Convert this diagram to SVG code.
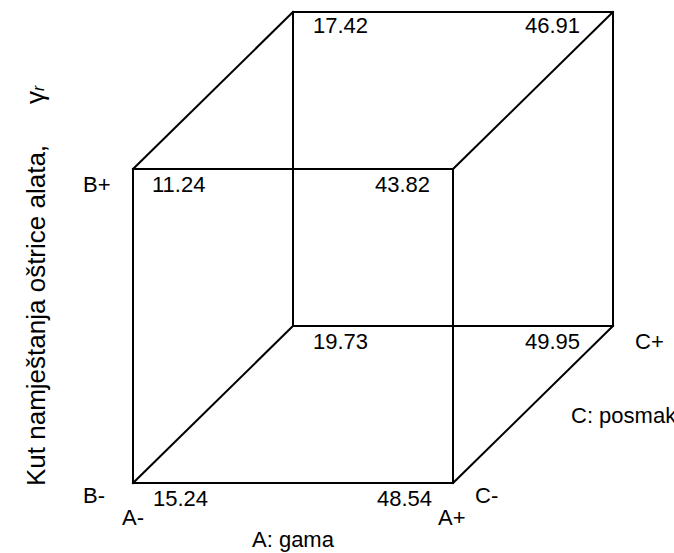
<svg xmlns="http://www.w3.org/2000/svg" width="674" height="553" viewBox="0 0 674 553">
<style>
.l{stroke:#000;stroke-width:2;fill:none;stroke-linecap:square}
text{font-family:"Liberation Sans",Arial,sans-serif;font-size:22px;fill:#000}
</style>
<rect width="674" height="553" fill="#fff"/>
<g id="connectors">
<rect class="l" x="293" y="12" width="320" height="314"/>
<rect class="l" x="133" y="169" width="320" height="314"/>
<line class="l" x1="133" y1="169" x2="293" y2="12"/>
<line class="l" x1="453" y1="169" x2="613" y2="12"/>
<line class="l" x1="133" y1="483" x2="293" y2="326"/>
<line class="l" x1="453" y1="483" x2="613" y2="326"/>
</g>
<g id="values">
<text x="313" y="33">17.42</text>
<text x="525" y="33">46.91</text>
<text x="152" y="192">11.24</text>
<text x="375" y="192">43.82</text>
<text x="313" y="349">19.73</text>
<text x="525" y="349">49.95</text>
<text x="153" y="506">15.24</text>
<text x="377" y="506">48.54</text>
</g>
<g id="labels">
<text x="83" y="192">B+</text>
<text x="83" y="503">B-</text>
<text x="122" y="525">A-</text>
<text x="438" y="525">A+</text>
<text x="475" y="503">C-</text>
<text x="635" y="349">C+</text>
<text x="571" y="423">C: posmak</text>
<text x="252" y="547">A: gama</text>
<text transform="translate(45,486) rotate(-90)" style="font-size:26px">Kut namještanja oštrice alata,</text>
<text transform="translate(44,104) rotate(-90)" style="font-size:26px">γ<tspan style="font-size:16px;font-style:italic">r</tspan></text>
</g>
</svg>
